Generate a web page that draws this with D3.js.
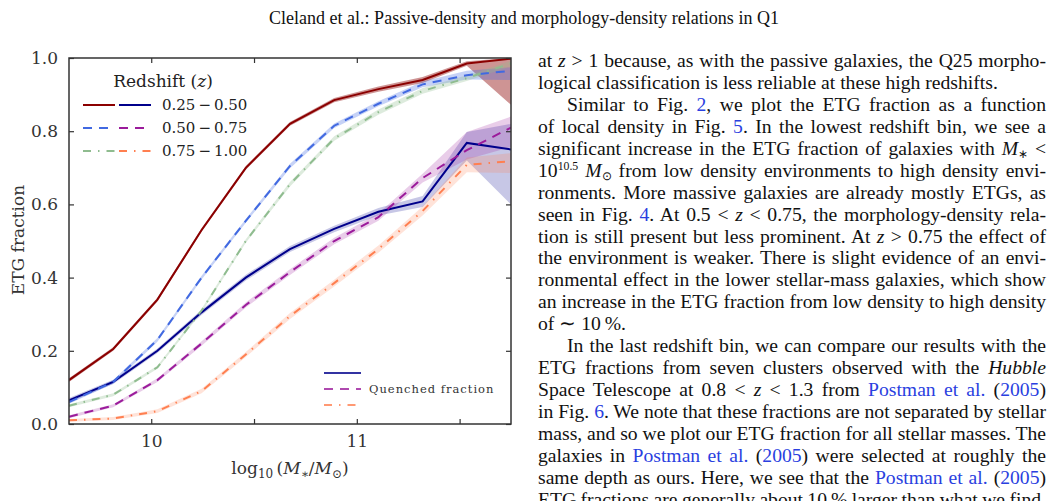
<!DOCTYPE html>
<html>
<head>
<meta charset="utf-8">
<script src="https://cdn.jsdelivr.net/npm/d3@7"></script>
<style>
  html, body { margin: 0; padding: 0; background: #fff; }
  body { width: 1055px; height: 501px; position: relative; overflow: hidden; }
  #header { position: absolute; left: 0; top: 8px; width: 1048px; text-align: center;
            font-family: "Liberation Serif", "Times New Roman", serif; font-size: 16px; color: #111; white-space: nowrap; }
  #column { position: absolute; left: 538px; top: 50px; width: 508px;
            font-family: "Liberation Serif", "Times New Roman", serif; font-size: 17px; color: #111; }
  #column .ln { height: 21.95px; line-height: 21.95px; white-space: nowrap; }
  #column .ln span.w { display: inline-block; }
  #column .ln.ind { padding-left: 29px; }
  #column a { color: #2a3fe0; text-decoration: none; }
  #column sub, #column sup { font-size: 0.6em; line-height: 0; vertical-align: baseline; position: relative; }
  #column sup { top: -0.55em; }
  #column sub { top: 0.25em; }
  .probe { position: absolute; visibility: hidden; white-space: nowrap;
           font-family: "Liberation Serif", "Times New Roman", serif; font-size: 20px; }
  svg { position: absolute; left: 0; top: 0; }
</style>
</head>
<body>
<div id="header">Cleland et al.: Passive-density and morphology-density relations in Q1</div>
<div id="column"></div>
<script>
// stellar-mass bin centres, log10(M*/Msun)
const massBins = [9.6, 9.815, 10.03, 10.245, 10.46, 10.675, 10.89, 11.105, 11.32, 11.535, 11.75];

// ETG fraction per redshift bin
const etgZ1 = [0.12, 0.205, 0.34, 0.53, 0.70, 0.82, 0.885, 0.915, 0.94, 0.985, 0.998];
const etgZ2 = [0.06, 0.115, 0.23, 0.40, 0.555, 0.705, 0.815, 0.875, 0.928, 0.953, 0.965];
const etgZ3 = [0.05, 0.08, 0.155, 0.31, 0.50, 0.655, 0.78, 0.852, 0.91, 0.945, 0.985];
// quenched fraction per redshift bin
const qZ1 = [0.065, 0.115, 0.20, 0.305, 0.40, 0.478, 0.533, 0.58, 0.608, 0.768, 0.75];
const qZ2 = [0.02, 0.05, 0.12, 0.22, 0.325, 0.415, 0.50, 0.565, 0.672, 0.748, 0.81];
const qZ3 = [0.01, 0.015, 0.035, 0.09, 0.19, 0.295, 0.385, 0.478, 0.582, 0.708, 0.718];

// uncertainty (down / up)
const etgZ1Dn = [0.005, 0.005, 0.005, 0.005, 0.005, 0.005, 0.006, 0.007, 0.008, 0.006, 0.126];
const etgZ1Up = [0.005, 0.005, 0.005, 0.005, 0.005, 0.005, 0.006, 0.007, 0.008, 0.006, 0.002];
const etgZ2Dn = [0.005, 0.005, 0.005, 0.005, 0.005, 0.006, 0.006, 0.007, 0.008, 0.012, 0.025];
const etgZ2Up = [0.005, 0.005, 0.005, 0.005, 0.005, 0.006, 0.006, 0.007, 0.008, 0.012, 0.010];
const etgZ3Dn = [0.004, 0.004, 0.004, 0.005, 0.005, 0.006, 0.006, 0.007, 0.008, 0.008, 0.008];
const etgZ3Up = [0.004, 0.004, 0.004, 0.005, 0.005, 0.006, 0.006, 0.007, 0.008, 0.008, 0.008];
const qZ1Dn = [0.006, 0.006, 0.006, 0.007, 0.008, 0.008, 0.009, 0.010, 0.015, 0.048, 0.150];
const qZ1Up = [0.006, 0.006, 0.006, 0.007, 0.008, 0.008, 0.009, 0.010, 0.015, 0.030, 0.070];
const qZ2Dn = [0.004, 0.004, 0.005, 0.006, 0.007, 0.008, 0.009, 0.010, 0.012, 0.025, 0.053];
const qZ2Up = [0.004, 0.004, 0.005, 0.006, 0.007, 0.008, 0.009, 0.010, 0.012, 0.050, 0.030];
const qZ3Dn = [0.004, 0.004, 0.005, 0.006, 0.007, 0.008, 0.009, 0.010, 0.012, 0.020, 0.032];
const qZ3Up = [0.004, 0.004, 0.005, 0.006, 0.007, 0.008, 0.009, 0.010, 0.012, 0.020, 0.022];

const zLabels = ["0.25\u2009\u2212\u20090.50", "0.50\u2009\u2212\u20090.75", "0.75\u2009\u2212\u20091.00"];
const xTicks = [10, 10.5, 11, 11.5];
const xTickLabels = ["10", "", "11", ""];
const yTicks = [0, 0.2, 0.4, 0.6, 0.8, 1.0];

// colours / dashes per redshift bin
const etgColors = ["#8b0000", "#4169e1", "#8fbc8f"];
const qColors = ["#00008b", "#9b1b9b", "#ff7f50"];
const dashes = [null, "9 7", "8 7 1.5 7"];

const etgSeries = [
  { v: etgZ1, dn: etgZ1Dn, up: etgZ1Up },
  { v: etgZ2, dn: etgZ2Dn, up: etgZ2Up },
  { v: etgZ3, dn: etgZ3Dn, up: etgZ3Up },
];
const qSeries = [
  { v: qZ1, dn: qZ1Dn, up: qZ1Up },
  { v: qZ2, dn: qZ2Dn, up: qZ2Up },
  { v: qZ3, dn: qZ3Dn, up: qZ3Up },
];

const W = 1055, H = 501;
const x = d3.scaleLinear().domain([9.6, 11.75]).range([69, 511]);
const y = d3.scaleLinear().domain([0, 1]).range([424, 58]);
const FONT = "DejaVu Serif, serif";

const svg = d3.select("body").append("svg")
  .attr("width", W).attr("height", H)
  .style("font-family", FONT);

svg.append("clipPath").attr("id", "plotclip")
  .append("rect").attr("x", 69).attr("y", 58).attr("width", 442).attr("height", 366);

const plot = svg.append("g").attr("clip-path", "url(#plotclip)");

const area = (s) => d3.area()
  .x((d, i) => x(massBins[i]))
  .y0((d, i) => y(s.v[i] - s.dn[i]))
  .y1((d, i) => y(s.v[i] + s.up[i]));
const line = d3.line().x((d, i) => x(massBins[i])).y((d) => y(d));

// shaded uncertainty bands, then the lines
qSeries.forEach((s, k) => {
  plot.append("path").datum(s.v).attr("d", area(s)).attr("fill", qColors[k]).attr("fill-opacity", 0.22);
});
etgSeries.forEach((s, k) => {
  plot.append("path").datum(s.v).attr("d", area(s)).attr("fill", etgColors[k]).attr("fill-opacity", k === 0 ? 0.42 : 0.3);
});
qSeries.forEach((s, k) => {
  plot.append("path").datum(s.v).attr("d", line).attr("fill", "none")
    .attr("stroke", qColors[k]).attr("stroke-width", 2).attr("stroke-dasharray", dashes[k]);
});
etgSeries.forEach((s, k) => {
  plot.append("path").datum(s.v).attr("d", line).attr("fill", "none")
    .attr("stroke", etgColors[k]).attr("stroke-width", 2).attr("stroke-dasharray", dashes[k]);
});

// axes: ticks inside on all four sides
const axisG = svg.append("g").attr("color", "#333");
const tickStyle = (g) => {
  g.select(".domain").remove();
  g.selectAll(".tick line").attr("stroke", "#333").attr("stroke-width", 1.2);
  g.selectAll(".tick text").attr("font-family", FONT).attr("font-size", 17).attr("fill", "#333");
};
axisG.append("g").attr("transform", "translate(0,424)")
  .call(d3.axisBottom(x).tickValues(xTicks).tickSize(-5).tickPadding(11)
    .tickFormat((d, i) => xTickLabels[i]))
  .call(tickStyle);
axisG.append("g").attr("transform", "translate(0,58)")
  .call(d3.axisTop(x).tickValues(xTicks).tickSize(-5).tickFormat(""))
  .call(tickStyle);
axisG.append("g").attr("transform", "translate(69,0)")
  .call(d3.axisLeft(y).tickValues(yTicks).tickSize(-5).tickPadding(11).tickFormat(d3.format(".1f")))
  .call(tickStyle);
axisG.append("g").attr("transform", "translate(511,0)")
  .call(d3.axisRight(y).tickValues(yTicks).tickSize(-5).tickFormat(""))
  .call(tickStyle);
svg.append("rect").attr("x", 69).attr("y", 58).attr("width", 442).attr("height", 366)
  .attr("fill", "none").attr("stroke", "#333").attr("stroke-width", 1.5);

// axis labels
svg.append("text").attr("transform", "translate(24,240) rotate(-90)")
  .attr("text-anchor", "middle").attr("font-size", 17).attr("fill", "#333").text("ETG fraction");

const xl = svg.append("text").attr("x", 290).attr("y", 474)
  .attr("text-anchor", "middle").attr("font-size", 17).attr("fill", "#333");
xl.append("tspan").text("log");
xl.append("tspan").attr("font-size", 12).attr("dy", 4).text("10");
xl.append("tspan").attr("dy", -4).text("\u2009(");
xl.append("tspan").attr("font-style", "italic").text("M");
xl.append("tspan").attr("font-size", 12).attr("dy", 4).text("\u2217");
xl.append("tspan").attr("dy", -4).text("/");
xl.append("tspan").attr("font-style", "italic").text("M");
xl.append("tspan").attr("font-size", 12).attr("dy", 4).text("\u2299");
xl.append("tspan").attr("dy", -4).text(")");

// redshift legend
const leg = svg.append("g").attr("font-size", 15).attr("fill", "#222");
const lt = leg.append("text").attr("x", 163).attr("y", 87).attr("text-anchor", "middle").attr("font-size", 17);
lt.append("tspan").text("Redshift (");
lt.append("tspan").attr("font-style", "italic").text("z");
lt.append("tspan").text(")");
zLabels.forEach((lab, k) => {
  const ry = 105 + k * 23;
  leg.append("line").attr("x1", 83).attr("x2", 115).attr("y1", ry).attr("y2", ry)
    .attr("stroke", etgColors[k]).attr("stroke-width", 2).attr("stroke-dasharray", dashes[k]);
  leg.append("line").attr("x1", 119).attr("x2", 151).attr("y1", ry).attr("y2", ry)
    .attr("stroke", qColors[k]).attr("stroke-width", 2).attr("stroke-dasharray", dashes[k]);
  leg.append("text").attr("x", 162).attr("y", ry + 5).text(lab);
});

// quenched legend
qColors.forEach((c, k) => {
  const ry = 373 + k * 16;
  svg.append("line").attr("x1", 324).attr("x2", 361).attr("y1", ry).attr("y2", ry)
    .attr("stroke", c).attr("stroke-opacity", 0.8).attr("stroke-width", 2).attr("stroke-dasharray", dashes[k]);
});
svg.append("text").attr("x", 369).attr("y", 393).attr("font-size", 11.5)
  .attr("letter-spacing", 1).attr("fill", "#333").text("Quenched fraction");

// text column of the page: [justified?, indented?, html]
const paperLines = [
  [1, 0, 'at <i>z</i> &gt; 1 because, as with the passive galaxies, the Q25 morpho-'],
  [0, 0, 'logical classification is less reliable at these high redshifts.'],
  [1, 1, 'Similar to Fig. <a>2</a>, we plot the ETG fraction as a function'],
  [1, 0, 'of local density in Fig. <a>5</a>. In the lowest redshift bin, we see a'],
  [1, 0, 'significant increase in the ETG fraction of galaxies with <i>M</i><sub>∗</sub> &lt;'],
  [1, 0, '10<sup>10.5</sup> <i>M</i><sub>⊙</sub> from low density environments to high density envi-'],
  [1, 0, 'ronments. More massive galaxies are already mostly ETGs, as'],
  [1, 0, 'seen in Fig. <a>4</a>. At 0.5 &lt; <i>z</i> &lt; 0.75, the morphology-density rela-'],
  [1, 0, 'tion is still present but less prominent. At <i>z</i> &gt; 0.75 the effect of'],
  [1, 0, 'the environment is weaker. There is slight evidence of an envi-'],
  [1, 0, 'ronmental effect in the lower stellar-mass galaxies, which show'],
  [1, 0, 'an increase in the ETG fraction from low density to high density'],
  [0, 0, 'of ∼ 10&#8201;%.'],
  [1, 1, 'In the last redshift bin, we can compare our results with the'],
  [1, 0, 'ETG fractions from seven clusters observed with the <i>Hubble</i>'],
  [1, 0, 'Space Telescope at 0.8 &lt; <i>z</i> &lt; 1.3 from <a>Postman et al.</a> (<a>2005</a>)'],
  [1, 0, 'in Fig. <a>6</a>. We note that these fractions are not separated by stellar'],
  [1, 0, 'mass, and so we plot our ETG fraction for all stellar masses. The'],
  [1, 0, 'galaxies in <a>Postman et al.</a> (<a>2005</a>) were selected at roughly the'],
  [1, 0, 'same depth as ours. Here, we see that the <a>Postman et al.</a> (<a>2005</a>)'],
  [1, 0, 'ETG fractions are generally about 10&#8201;% larger than what we find.'],
];

// size the body font so the short line 2 spans what it does on the page (538 -> 998)
const probe = d3.select("body").append("span").attr("class", "probe").html(paperLines[1][2]);
const natural = probe.node().getBoundingClientRect().width;
probe.remove();
d3.select("#column").style("font-size", (20 * 460 / natural).toFixed(2) + "px");

// header spans 269 -> 779
const hp = d3.select("body").append("span").attr("class", "probe").text(d3.select("#header").text());
const hw = hp.node().getBoundingClientRect().width;
hp.remove();
d3.select("#header").style("font-size", (20 * 510 / hw).toFixed(2) + "px");

const COL_W = 508;
const rows = d3.select("#column").selectAll("div.ln").data(paperLines).join("div")
  .attr("class", (d) => "ln" + (d[1] ? " ind" : ""));
rows.append("span").attr("class", "w").html((d) => d[2]);

// justify by hand: spread (or squeeze) the spaces so each full line ends at the column edge
rows.each(function (d) {
  if (!d[0]) return;
  const span = d3.select(this).select("span.w");
  const avail = COL_W - (d[1] ? 29 : 0);
  const w = span.node().getBoundingClientRect().width;
  const gaps = (span.node().textContent.match(/ /g) || []).length;
  if (!gaps) return;
  let ws = (avail - w) / gaps;
  if (ws < -1.5) {
    const chars = span.node().textContent.length;
    span.style("letter-spacing", ((avail - w + 1.5 * gaps) / chars).toFixed(3) + "px");
    ws = -1.5;
  }
  span.style("word-spacing", ws.toFixed(3) + "px");
});
</script>
</body>
</html>
